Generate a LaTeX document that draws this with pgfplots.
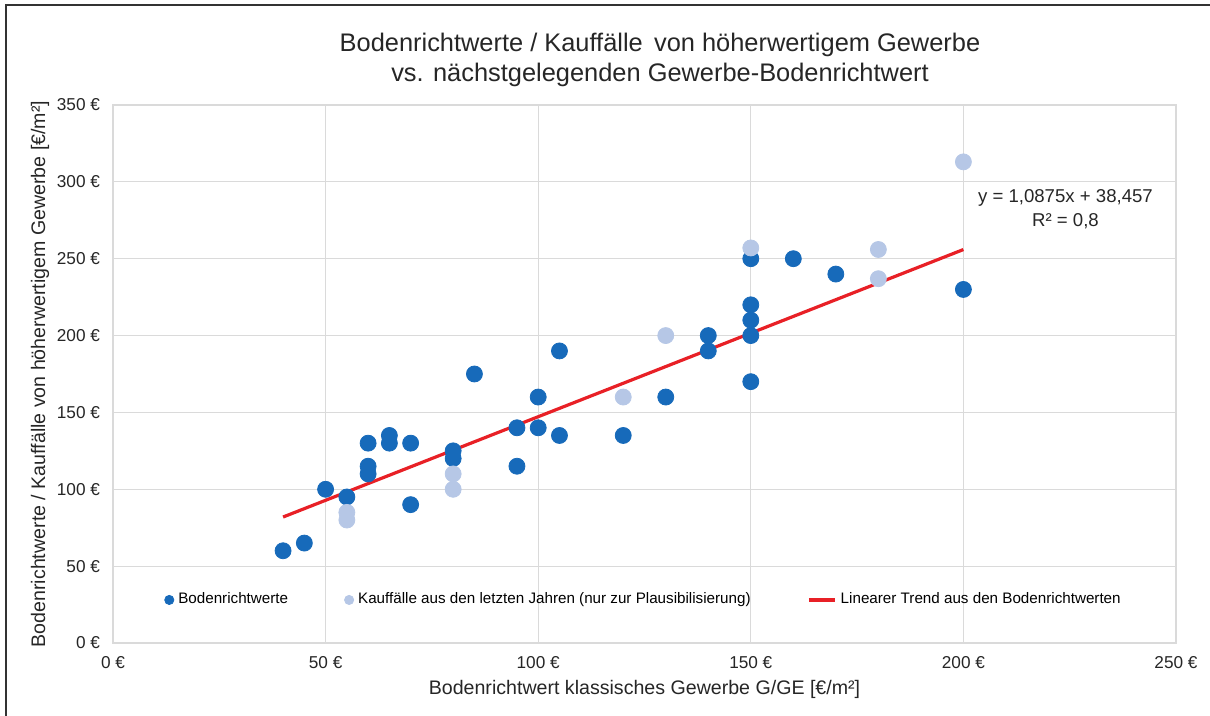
\documentclass[border=0pt]{standalone}
\usepackage{fontspec}
\setmainfont{Liberation Sans}
\usepackage{pgfplots}
\pgfplotsset{compat=1.18}
\definecolor{brwblue}{RGB}{23,106,186}
\definecolor{kaufblue}{RGB}{182,199,230}
\definecolor{trendred}{RGB}{232,32,38}
\definecolor{gridgray}{RGB}{218,218,218}

\begin{document}
\begin{tikzpicture}[x=1pt,y=1pt]
% picture frame: 1210x716 px at 0.5pt per px
\useasboundingbox (-56.5,-36.5) rectangle (548.5,321.5);
\draw[line width=1.2pt,black!80] (-53.5,-36.5) -- (-53.5,319) -- (548.5,319);
\begin{axis}[
    scale only axis,
    width=531.5pt,height=269pt,
    at={(0,0)},anchor=south west,
    xmin=0,xmax=250,ymin=0,ymax=350,
    xtick={0,50,...,250},
    xticklabels={0~€,50~€,100~€,150~€,200~€,250~€},
    ytick={0,50,...,350},
    yticklabels={0~€,50~€,100~€,150~€,200~€,250~€,300~€,350~€},
    grid=major,
    grid style={draw=gridgray,line width=0.6pt},
    axis line style={draw=gridgray,line width=0.6pt},
    major tick length=0pt,
    tick label style={font=\fontsize{8.6}{9}\selectfont,text=black!85},
    xticklabel style={yshift=-3pt},
    yticklabel style={xshift=-3pt},
    xlabel={Bodenrichtwert klassisches Gewerbe G/GE [€/m²]},
    ylabel={Bodenrichtwerte / Kauffälle von höherwertigem Gewerbe [€/m²]},
    label style={font=\fontsize{9.8}{11}\selectfont,text=black!85},
    xlabel style={yshift=1pt},
    ylabel style={yshift=-3pt},
    legend columns=3,
    legend style={at={(0.5,0.08)},anchor=center,draw=none,fill=none,
        font=\fontsize{7.6}{9}\selectfont,
        /tikz/every even column/.append style={column sep=26pt}},
    clip=false,
]
\addplot[only marks,mark=*,mark size=4pt,color=brwblue,
    legend image code/.code={\fill[brwblue] (0.25cm,0) circle (2.3pt);}]
coordinates {
(40,60)(45,65)(50,100)(55,95)(60,130)(60,115)(60,110)
(65,135)(65,130)(70,130)(70,90)(80,125)(80,120)(85,175)
(95,140)(95,115)(100,160)(100,140)(105,190)(105,135)
(120,135)(130,160)(140,200)(140,190)
(150,250)(150,220)(150,210)(150,200)(150,170)
(160,250)(170,240)(200,230)};
\addlegendentry{Bodenrichtwerte}
\addplot[only marks,mark=*,mark size=4pt,color=kaufblue,
    legend image code/.code={\fill[kaufblue] (0.25cm,0) circle (2.3pt);}]
coordinates {
(55,85)(55,80)(80,110)(80,100)(120,160)(130,200)
(150,257)(180,256)(180,237)(200,313)};
\addlegendentry{Kauffälle aus den letzten Jahren (nur zur Plausibilisierung)}
\addplot[trendred,line width=1.6pt,
    legend image code/.code={\draw[trendred,line width=2.2pt] (0,0) -- (0.45cm,0);}]
coordinates {(40,81.957)(200,255.957)};
\addlegendentry{Linearer Trend aus den Bodenrichtwerten}
\node[align=center,font=\fontsize{9.3}{12}\selectfont,text=black!85]
    at (axis cs:224,282) {y = 1,0875x + 38,457\\R² = 0,8};
\end{axis}
\node[align=center,font=\fontsize{12.7}{15}\selectfont,text=black!85]
    at (273.5,291.5) {Bodenrichtwerte / Kauffälle\, von höherwertigem Gewerbe\\vs. nächstgelegenden Gewerbe-Bodenrichtwert};
\end{tikzpicture}
\end{document}
